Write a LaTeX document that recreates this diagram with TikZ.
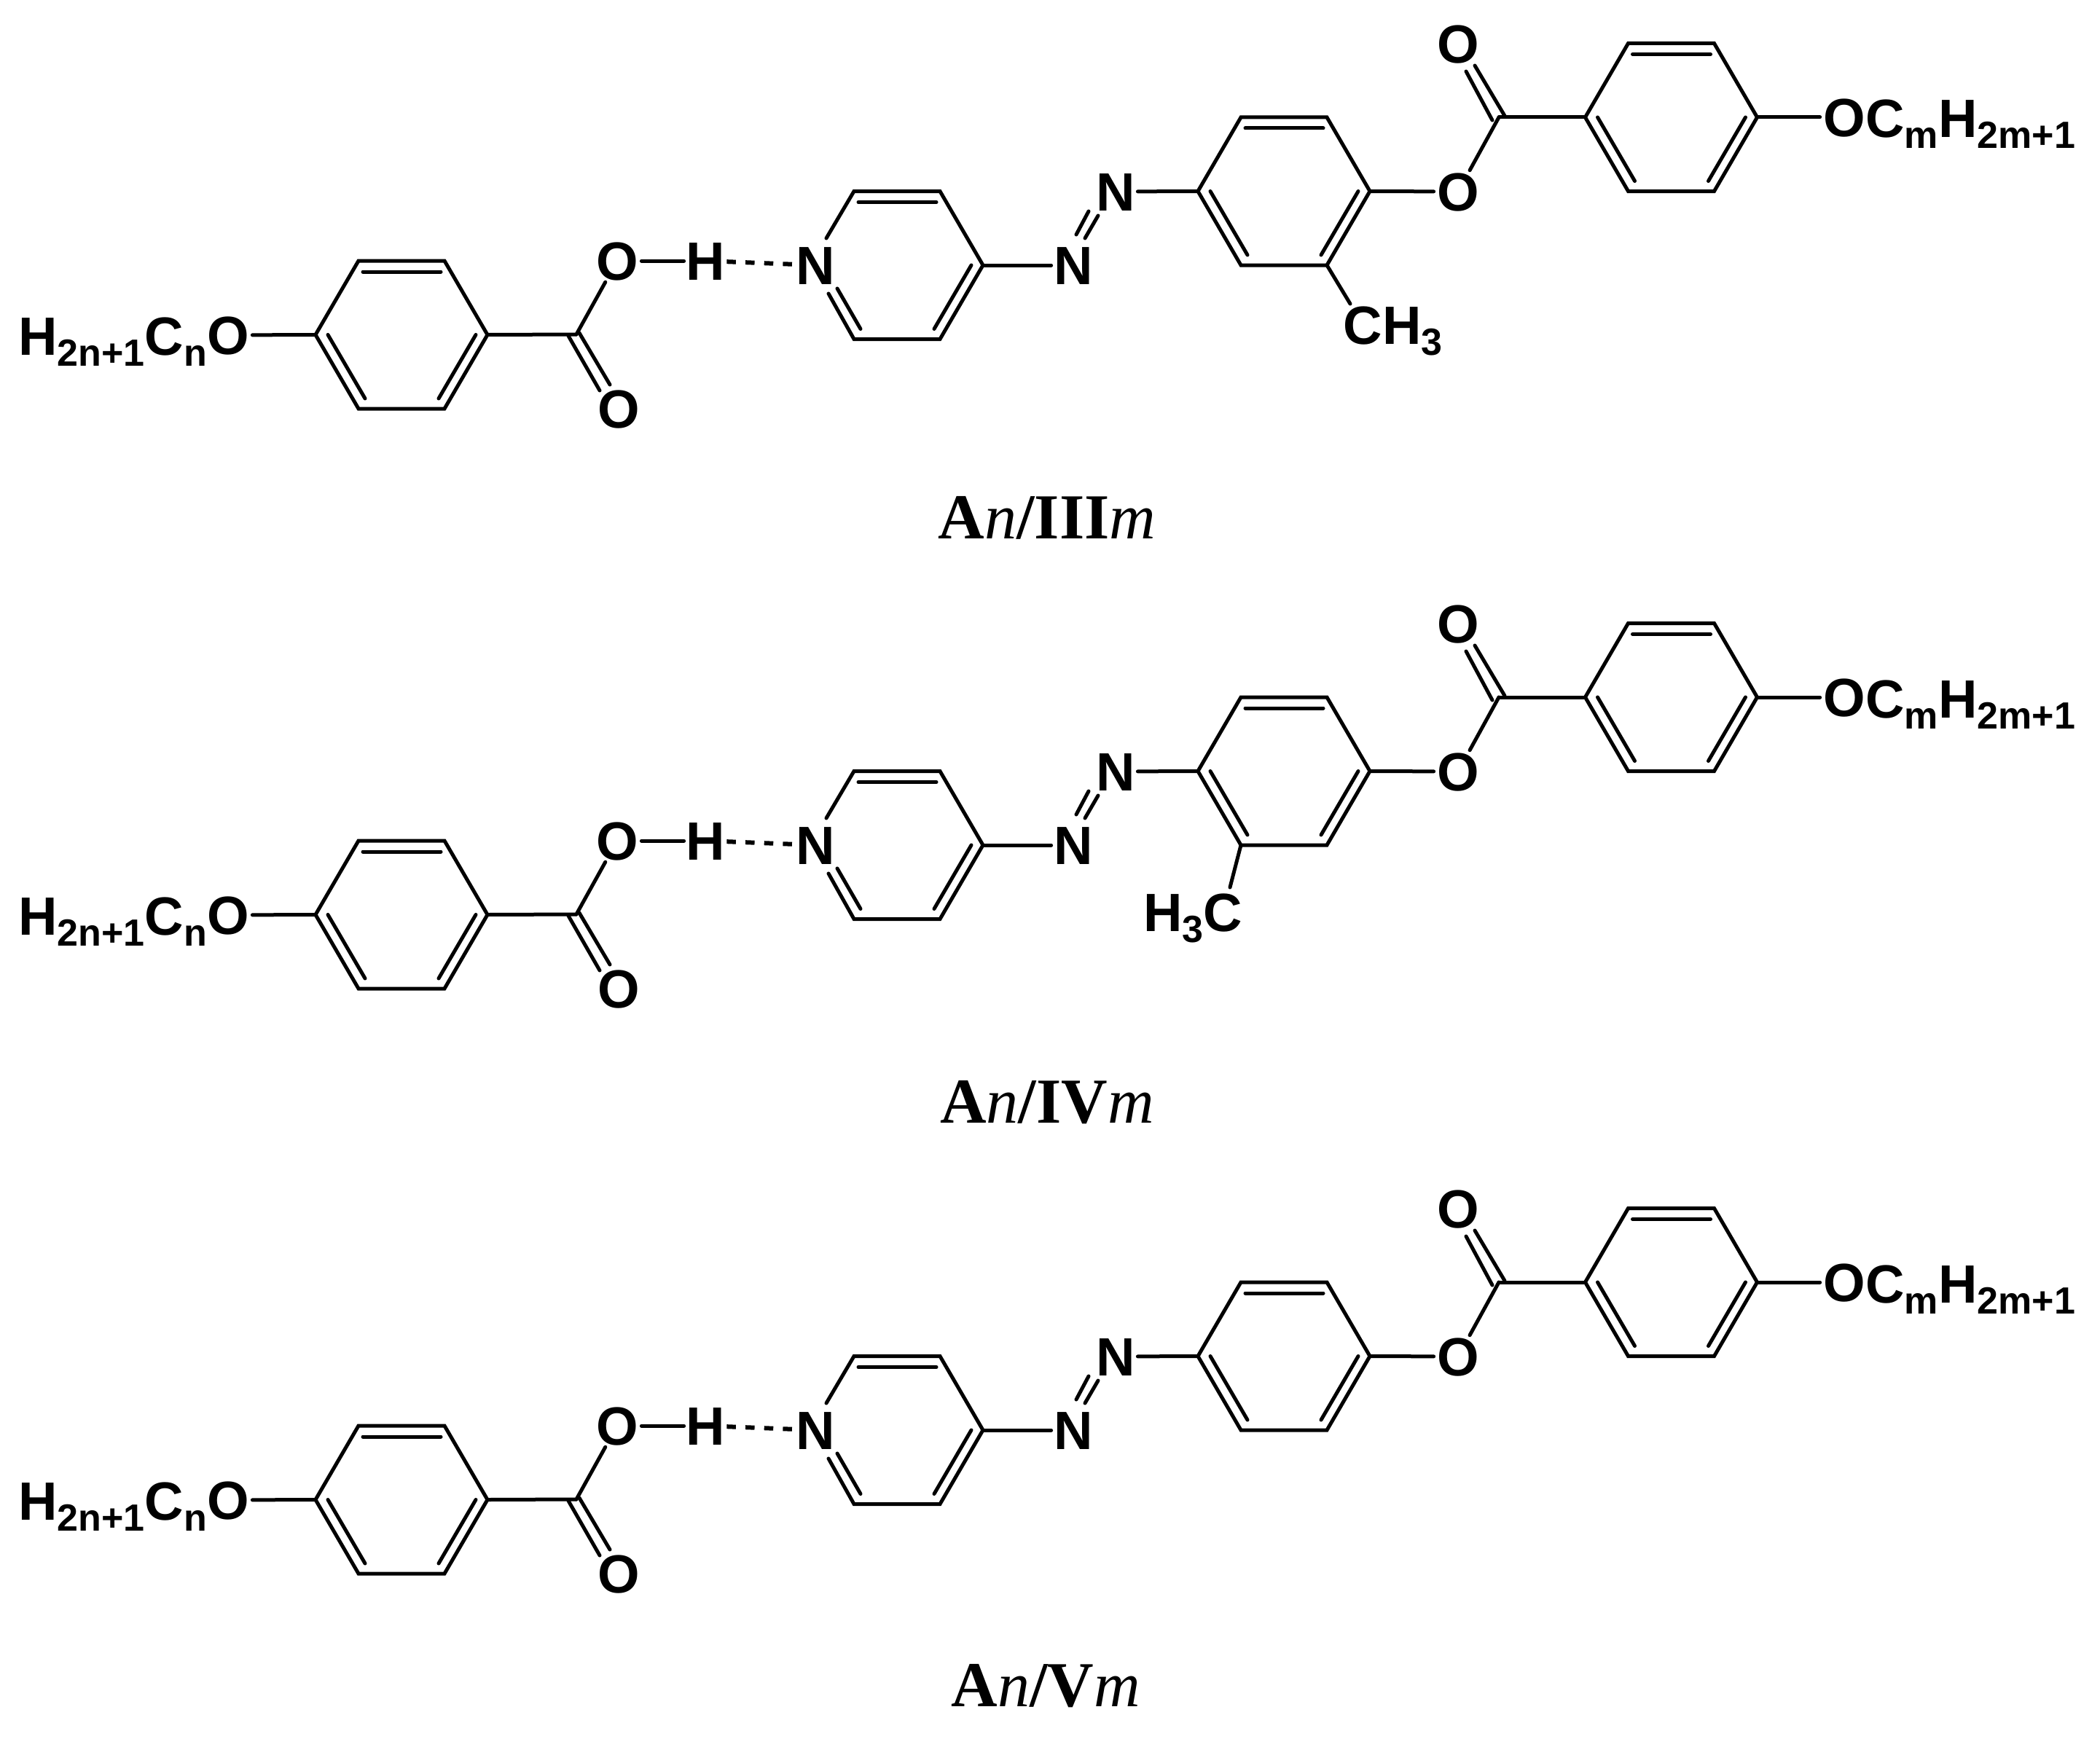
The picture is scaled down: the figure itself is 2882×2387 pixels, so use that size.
\documentclass[tikz,border=0pt]{standalone}
\usepackage{fontspec}
\newfontfamily\chemfont{Liberation Sans}
\newfontfamily\labelfont{Liberation Serif}
\newcommand\chemsize{\chemfont\bfseries\fontsize{37pt}{37pt}\selectfont}
\newcommand\sbs[1]{\raisebox{-7.5pt}{\fontsize{26pt}{26pt}\selectfont #1}}
\newcommand\atomtxt[1]{\makebox[0pt]{\raisebox{-13.25pt}[0pt][0pt]{#1}}}
\tikzset{
  bond/.style={line width=2.5pt,line cap=round,line join=miter,black},
  hbond/.style={line width=3pt,black,dash pattern=on 6.25pt off 6.6pt},
  atomnode/.style={circle,inner sep=0pt,minimum size=#1*1pt,font=\chemsize},
  chemtext/.style={inner sep=0pt,font=\chemsize},
  namelabel/.style={inner sep=0pt,anchor=base,font=\labelfont\fontsize{44pt}{44pt}\selectfont},
}
% ring with left/right/bottom vertices and three inner lines
\newcommand\hexpts[3]{%
  \coordinate (#1L) at (#2-118,#3);
  \coordinate (#1TL) at (#2-59,#3-101.5);
  \coordinate (#1TR) at (#2+59,#3-101.5);
  \coordinate (#1R) at (#2+118,#3);
  \coordinate (#1BR) at (#2+59,#3+101.5);
  \coordinate (#1BL) at (#2-59,#3+101.5);
  \coordinate (#1ia) at (#2-53,#3-86.5);
  \coordinate (#1ib) at (#2+54,#3-86.5);
  \coordinate (#1ic) at (#2-101,#3);
  \coordinate (#1id) at (#2-50,#3+87.5);
  \coordinate (#1ie) at (#2+102,#3);
  \coordinate (#1if) at (#2+51,#3+87.5);
  \draw[bond] (#1ia) -- (#1ib);
  \draw[bond] (#1ie) -- (#1if);
}
\newcommand\benzene[3]{%
  \hexpts{#1}{#2}{#3}
  \draw[bond] (#1ic) -- (#1id);
  \draw[bond] (#1L) -- (#1TL) -- (#1TR) -- (#1R) -- (#1BR) -- (#1BL) -- cycle;
}
\newcommand\molecule[3]{%
\begin{scope}[name prefix=#1-,shift={(0,#2)}]
  % left alkoxy
  \node[atomnode=33] (Oa) at (313,460) {\atomtxt{O}};
  \node[chemtext,anchor=base east] (Ta) at (284.5,487) {H\sbs{2n+1}C\sbs{n}};
  \benzene{ra}{551}{459.5}
  \draw[bond] (Oa) -- (raL);
  % acid
  \coordinate (Ca) at (791,459);
  \draw[bond] (raR) -- (Ca);
  \node[atomnode=33] (Ob) at (847,358) {\atomtxt{O}};
  \node[atomnode=33] (Oc) at (849,561) {\atomtxt{O}};
  \node[atomnode=29] (H) at (968,358) {\atomtxt{H}};
  \node[atomnode=31] (Na) at (1119,364) {\atomtxt{N}};
  \draw[bond] (Ca) -- (Ob);
  \coordinate (d1a) at (780,461); \coordinate (d1b) at (823,536);
  \coordinate (d2a) at (795,457); \coordinate (d2b) at (837,528);
  \draw[bond] (d1a) -- (d1b);
  \draw[bond] (d2a) -- (d2b);
  \draw[bond] (Ob) -- (H);
  \draw[hbond] (H) -- (Na);
  % pyridine
  \hexpts{rb}{1231}{364}
  \coordinate (nt) at (1134,327);
  \coordinate (nb) at (1137,403);
  \coordinate (ni) at (1149,396);
  \draw[bond] (nt) -- (rbTL) -- (rbTR) -- (rbR) -- (rbBR) -- (rbBL) -- (nb);
  \draw[bond] (ni) -- (rbid);
  % azo
  \node[atomnode=30] (Nb) at (1473,364) {\atomtxt{N}};
  \node[atomnode=30] (Nc) at (1531,263) {\atomtxt{N}};
  \draw[bond] (rbR) -- (Nb);
  \coordinate (a1a) at (1477,322); \coordinate (a1b) at (1494,290);
  \coordinate (a2a) at (1489,327); \coordinate (a2b) at (1507,296);
  \draw[bond] (a1a) -- (a1b);
  \draw[bond] (a2a) -- (a2b);
  % central ring
  \benzene{rc}{1762}{262.5}
  \draw[bond] (Nc) -- (rcL);
  % ester
  \node[atomnode=33] (Od) at (2001,263) {\atomtxt{O}};
  \node[atomnode=33] (Oe) at (2001,60) {\atomtxt{O}};
  \coordinate (Cb) at (2057,161);
  \draw[bond] (rcR) -- (Od);
  \draw[bond] (Od) -- (Cb);
  \coordinate (e1a) at (2048,165); \coordinate (e1b) at (2012,98);
  \coordinate (e2a) at (2065,159); \coordinate (e2b) at (2024,90);
  \draw[bond] (e1a) -- (e1b);
  \draw[bond] (e2a) -- (e2b);
  \benzene{rd}{2293.5}{161}
  \draw[bond] (Cb) -- (rdL);
  \node[atomnode=33] (Of) at (2531,161) {\atomtxt{O}};
  \draw[bond] (rdR) -- (Of);
  \node[chemtext,anchor=base west] (Tf) at (2560,189) {C\sbs{m}H\sbs{2m+1}};
  #3
\end{scope}}
\begin{document}
\begin{tikzpicture}[x=0.5pt,y=-0.5pt]
\useasboundingbox (0,0) rectangle (2882,2387);
\molecule{one}{0}{%
  \node[chemtext,anchor=base west] (Me) at (1843.5,472.5) {CH\sbs{3}};
  \coordinate (Mb) at (1853,417);
  \draw[bond] (rcBR) -- (Mb);
}
\molecule{two}{796}{%
  \node[chemtext,anchor=base west] (Me) at (1569,482) {H\sbs{3}C};
  \coordinate (Mb) at (1688,422);
  \draw[bond] (rcBL) -- (Mb);
}
\molecule{three}{1599}{}
\node[namelabel] (La) at (1437,739) {\textbf{A}\textit{n}\textbf{/III}\textit{m}};
\node[namelabel] (Lb) at (1437,1541) {\textbf{A}\textit{n}\textbf{/IV}\textit{m}};
\node[namelabel] (Lc) at (1435,2342) {\textbf{A}\textit{n}\textbf{/V}\textit{m}};
\end{tikzpicture}
\end{document}
